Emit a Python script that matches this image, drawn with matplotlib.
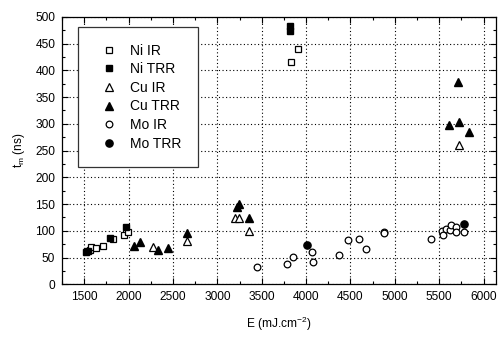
import matplotlib
matplotlib.use('Agg')
import matplotlib.pyplot as plt
from matplotlib.ticker import MultipleLocator

plt.rcParams['font.family'] = ['Liberation Sans', 'DejaVu Sans']
plt.rcParams['mathtext.fontset'] = 'custom'
plt.rcParams['mathtext.rm'] = 'Liberation Sans'
plt.rcParams['mathtext.it'] = 'Liberation Sans'

# Ni
ni_ir_E = [1565, 1580, 1632, 1716, 1822, 1945, 1995, 3824, 3910]
ni_ir_t = [64, 69, 67, 71, 84, 92, 97, 416, 440]
ni_trr_E = [1520, 1545, 1787, 1972, 3820, 3820]
ni_trr_t = [60, 63, 87, 107, 474, 483]

# Cu
cu_ir_E = [2270, 2653, 3200, 3245, 3355, 5720]
cu_ir_t = [69, 81, 123, 123, 99, 260]
cu_trr_E = [2063, 2131, 2333, 2439, 2653, 3216, 3240, 3351, 5611, 5716, 5720, 5840]
cu_trr_t = [72, 79, 65, 68, 95, 145, 150, 124, 297, 378, 304, 284]

# Mo
mo_ir_E = [3441, 3779, 3854, 4061, 4083, 4365, 4470, 4594, 4673, 4880, 4880,
           5412, 5536, 5539, 5573, 5618, 5637, 5686, 5694, 5780]
mo_ir_t = [32, 37, 51, 61, 42, 54, 82, 85, 66, 97, 95,
           85, 99, 92, 104, 101, 111, 108, 98, 97]
mo_trr_E = [4008, 5780]
mo_trr_t = [73, 113]

fig = plt.figure(figsize=(5.01, 3.38), dpi=100)
ax = fig.add_axes([0.124, 0.159, 0.866, 0.791])

ax.plot(ni_ir_E, ni_ir_t, 's', mfc='white', mec='black', mew=0.9, ms=4.4, label='Ni IR')
ax.plot(ni_trr_E, ni_trr_t, 's', mfc='black', mec='black', ms=4.8, label='Ni TRR')
ax.plot(cu_ir_E, cu_ir_t, '^', mfc='white', mec='black', mew=0.9, ms=5.4, label='Cu IR')
ax.plot(cu_trr_E, cu_trr_t, '^', mfc='black', mec='black', ms=5.8, label='Cu TRR')
ax.plot(mo_ir_E, mo_ir_t, 'o', mfc='white', mec='black', mew=0.9, ms=4.8, label='Mo IR')
ax.plot(mo_trr_E, mo_trr_t, 'o', mfc='black', mec='black', ms=5.2, label='Mo TRR')

ax.set_xlim(1250, 6140)
ax.set_ylim(0, 500)
ax.xaxis.set_major_locator(MultipleLocator(500))
ax.xaxis.set_minor_locator(MultipleLocator(250))
ax.yaxis.set_major_locator(MultipleLocator(50))
ax.yaxis.set_minor_locator(MultipleLocator(25))
ax.tick_params(which='both', direction='in', top=True, right=True, labelsize=8.6, pad=5)
ax.tick_params(which='major', length=4, width=0.8)
ax.tick_params(which='minor', length=2.2, width=0.8)
ax.grid(True, which='major', linestyle=(0, (1, 2.2)), color='black', linewidth=0.8)
for s in ax.spines.values():
    s.set_linewidth(0.9)

ax.set_xlabel('E (mJ.cm$^{-2}$)', fontsize=8.6, labelpad=8)
ax.set_ylabel('t$_m$ (ns)', fontsize=8.6, labelpad=6)

leg = ax.legend(loc='upper left', bbox_to_anchor=(0.037, 0.962), borderaxespad=0,
                fontsize=10, frameon=True, fancybox=False, edgecolor='#333333',
                framealpha=1, borderpad=1.2, labelspacing=0.33,
                handletextpad=0.5, handlelength=2.0)
leg.get_frame().set_linewidth(0.9)

fig.savefig('out.png', dpi=100)
